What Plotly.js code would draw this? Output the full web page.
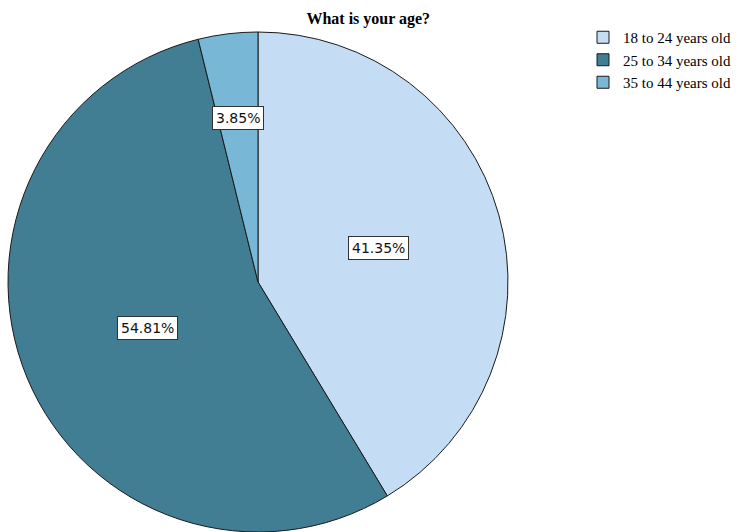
<!DOCTYPE html>
<html>
<head>
<meta charset="utf-8">
<script src="https://cdn.plot.ly/plotly-3.0.1.min.js"></script>
<style>html,body{margin:0;padding:0;background:#fff;}#chart{width:741px;height:532px;}</style>
</head>
<body>
<div id="chart"></div>
<script>
const categories = ["18 to 24 years old", "25 to 34 years old", "35 to 44 years old"];
const counts = [43, 57, 4];
const colors = ["#c4ddf4", "#427e93", "#79b7d6"];

const W = 741, H = 532;
const margin = {l: 0, r: 0, t: 32, b: 0};
const plotW = W - margin.l - margin.r, plotH = H - margin.t - margin.b;
const cx = 258, cy = 282, R = 250;
const domX = [(cx - R) / plotW, (cx + R) / plotW];

const total = counts.reduce((a, b) => a + b, 0);
const labelRadius = [0.5, 0.48, 0.66];
const annotations = [];
let cum = 0;
counts.forEach((v, i) => {
  const frac = v / total;
  const mid = (cum + frac / 2) * 2 * Math.PI;
  cum += frac;
  const r = R * labelRadius[i];
  const px = cx + r * Math.sin(mid);
  const py = cy - r * Math.cos(mid);
  annotations.push({
    xref: 'paper', yref: 'paper',
    x: (px - margin.l) / plotW, y: 1 - (py - margin.t) / plotH,
    xanchor: 'center', yanchor: 'middle',
    text: (frac * 100).toFixed(2) + '%',
    showarrow: false,
    font: {family: 'DejaVu Sans, sans-serif', size: 14, color: '#111'},
    bgcolor: '#ffffff', bordercolor: '#333333', borderwidth: 1, borderpad: 3
  });
});

const data = [{
  type: 'pie',
  labels: categories,
  values: counts,
  sort: false,
  direction: 'clockwise',
  rotation: 0,
  textinfo: 'none',
  hoverinfo: 'none',
  marker: {colors: colors, line: {color: '#1a1a1a', width: 1}},
  domain: {x: domX, y: [0, 1]}
}];

const layout = {
  width: W, height: H,
  margin: margin,
  paper_bgcolor: '#fff',
  title: {text: '<b>What is your age?</b>', x: 0.497, xanchor: 'center', y: 0.966, yanchor: 'middle',
          font: {family: 'Liberation Serif, serif', size: 16, color: '#000'}},
  showlegend: true,
  legend: {x: 583 / W, xanchor: 'left', y: 1.022, yanchor: 'top',
           font: {family: 'Liberation Serif, serif', size: 15, color: '#000'},
           bgcolor: 'rgba(0,0,0,0)', tracegroupgap: 0, itemwidth: 30},
  annotations: annotations
};

Plotly.newPlot('chart', data, layout, {displayModeBar: false, staticPlot: true});
</script>
</body>
</html>
